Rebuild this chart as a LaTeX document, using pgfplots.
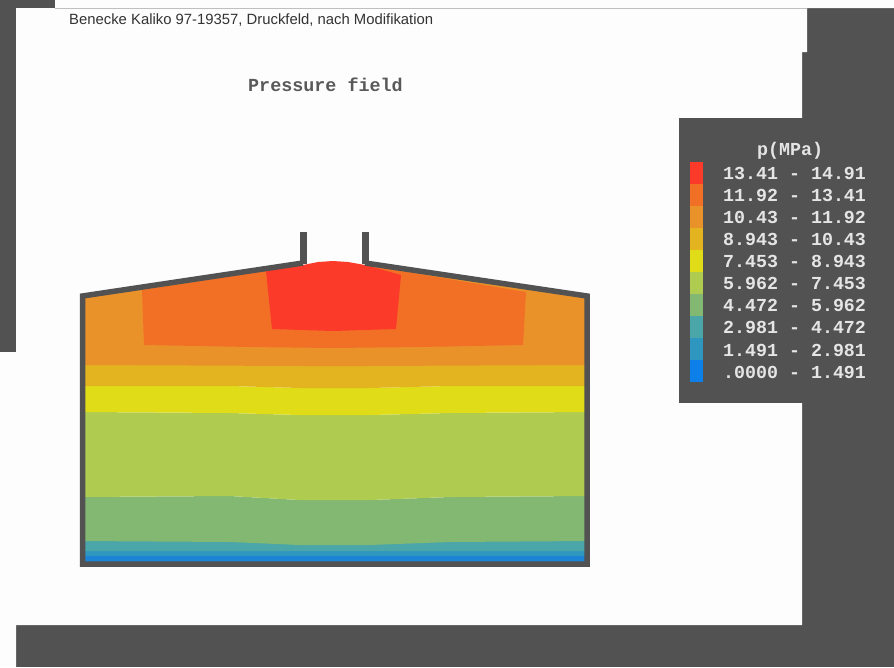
\documentclass[border=0pt]{standalone}
\usepackage{pgfplots}
\pgfplotsset{compat=1.18}
\usepackage{fontspec}
\setmainfont{Liberation Sans}
\newfontfamily\vga{Liberation Mono}

\definecolor{bgdark}{HTML}{525252}
\definecolor{sheet}{HTML}{FDFDFD}
\definecolor{cRed}{HTML}{FB3A2A}
\definecolor{cOrRed}{HTML}{F26F26}
\definecolor{cOrange}{HTML}{EA922A}
\definecolor{cGold}{HTML}{E3B420}
\definecolor{cYellow}{HTML}{E0DC18}
\definecolor{cLime}{HTML}{AFCC50}
\definecolor{cGreen}{HTML}{82B872}
\definecolor{cTeal}{HTML}{4AA6A8}
\definecolor{cBlueA}{HTML}{2F96C0}
\definecolor{cBlue}{HTML}{1C84D4}
\definecolor{cBlueL}{HTML}{0C80E8}

\begin{document}
\begin{tikzpicture}
\begin{axis}[
  scale only axis, width=894pt, height=667pt,
  xmin=0, xmax=894, ymin=0, ymax=667, y dir=reverse,
  hide axis, clip=true,
  every axis plot/.append style={draw=none, forget plot},
]
% page: dark ground and the white sheet
\addplot[fill=bgdark] coordinates {(0,0) (894,0) (894,667) (0,667)} -- cycle;
\addplot[fill=sheet] coordinates {(55,0) (894,0) (894,8) (807,8) (807,52) (802,52) (802,625) (16,625) (16,667) (0,667) (0,352) (16,352) (16,8) (55,8)} -- cycle;
\addplot[draw=black!25, line width=0.6pt] coordinates {(55,8) (807,8)};
% legend panel
\addplot[fill=bgdark] coordinates {(679,118) (806,118) (806,403) (679,403)} -- cycle;

% pressure bands, bottom up, each drawn over the one before
\addplot[fill=cBlue] coordinates {(81,565) (587,565) (587,553) (81,553)} -- cycle;
\addplot[fill=cBlueA] coordinates {(81,556) (587,556) (587,549) (81,549)} -- cycle;
\addplot[fill=cTeal] coordinates {(81,551) (587,551) (587,540) (450,541) (370,544) (300,544) (230,541) (81,540)} -- cycle;
\addplot[fill=cGreen] coordinates {(81,541) (230,542) (300,545) (370,545) (450,542) (587,541) (587,496) (450,497) (370,500) (300,500) (230,496) (81,497)} -- cycle;
\addplot[fill=cLime] coordinates {(81,497) (230,496) (300,500) (370,500) (450,497) (587,496) (587,412) (450,413) (370,415) (300,415) (230,413) (81,412)} -- cycle;
\addplot[fill=cYellow] coordinates {(81,412) (230,413) (300,415) (370,415) (450,413) (587,412) (587,386) (450,386) (370,388) (300,388) (230,386) (81,386)} -- cycle;
\addplot[fill=cGold] coordinates {(81,386) (230,386) (300,388) (370,388) (450,386) (587,386) (587,364) (370,365) (300,365) (81,364)} -- cycle;
\addplot[fill=cOrange] coordinates {(81,365) (300,366) (370,366) (587,365) (587,296) (365,265) (303,265) (81,296)} -- cycle;
\addplot[fill=cOrRed] coordinates {(144,345) (250,347) (333,348) (420,347) (523,345) (526,292) (365,265) (303,265) (142,290)} -- cycle;
\addplot[fill=cRed] coordinates {(272,329) (333,331) (396,329) (401,275) (365,265) (348,262) (333,261) (318,262) (303,265) (266,271)} -- cycle;

% vessel wall
\addplot[draw=bgdark, line width=5.5pt, line join=miter] coordinates {(303,263) (82.5,296) (82.5,564) (587,564) (587,296) (365,263)};
\addplot[draw=bgdark, line width=7pt] coordinates {(303,232) (303,264)};
\addplot[draw=bgdark, line width=7pt] coordinates {(365,232) (365,264)};

% legend swatches
\addplot[fill=cRed]    coordinates {(690,162) (703,162) (703,184) (690,184)} -- cycle;
\addplot[fill=cOrRed]  coordinates {(690,184) (703,184) (703,206) (690,206)} -- cycle;
\addplot[fill=cOrange] coordinates {(690,206) (703,206) (703,228) (690,228)} -- cycle;
\addplot[fill=cGold]   coordinates {(690,228) (703,228) (703,250) (690,250)} -- cycle;
\addplot[fill=cYellow] coordinates {(690,250) (703,250) (703,272) (690,272)} -- cycle;
\addplot[fill=cLime]   coordinates {(690,272) (703,272) (703,294) (690,294)} -- cycle;
\addplot[fill=cGreen]  coordinates {(690,294) (703,294) (703,316) (690,316)} -- cycle;
\addplot[fill=cTeal]   coordinates {(690,316) (703,316) (703,338) (690,338)} -- cycle;
\addplot[fill=cBlueA]  coordinates {(690,338) (703,338) (703,360) (690,360)} -- cycle;
\addplot[fill=cBlueL]  coordinates {(690,360) (703,360) (703,382) (690,382)} -- cycle;

% texts
\node[anchor=west, inner sep=0pt, text=black!80, font=\fontsize{14.85}{16}\selectfont] at (axis cs:69,20) {Benecke Kaliko 97-19357, Druckfeld, nach Modifikation};
\node[anchor=west, inner sep=0pt, text=black!65, font=\vga\bfseries\fontsize{18.4}{20}\selectfont] at (axis cs:248,85) {Pressure field};
\node[anchor=west, inner sep=0pt, text=white!90!black, font=\vga\bfseries\fontsize{18.3}{20}\selectfont] at (axis cs:757,151) {p(MPa)};
\foreach \yy/\lab in {173/{13.41 - 14.91},195/{11.92 - 13.41},217/{10.43 - 11.92},239/{8.943 - 10.43},261/{7.453 - 8.943},283/{5.962 - 7.453},305/{4.472 - 5.962},327/{2.981 - 4.472},350/{1.491 - 2.981},372/{.0000 - 1.491}}{
  \edef\temp{\noexpand\node[anchor=west, inner sep=0pt, text=white!90!black, font=\noexpand\vga\noexpand\bfseries\noexpand\fontsize{18.3}{20}\noexpand\selectfont] at (axis cs:723,\yy) {\lab};}
  \temp
}
\end{axis}
\end{tikzpicture}
\end{document}
